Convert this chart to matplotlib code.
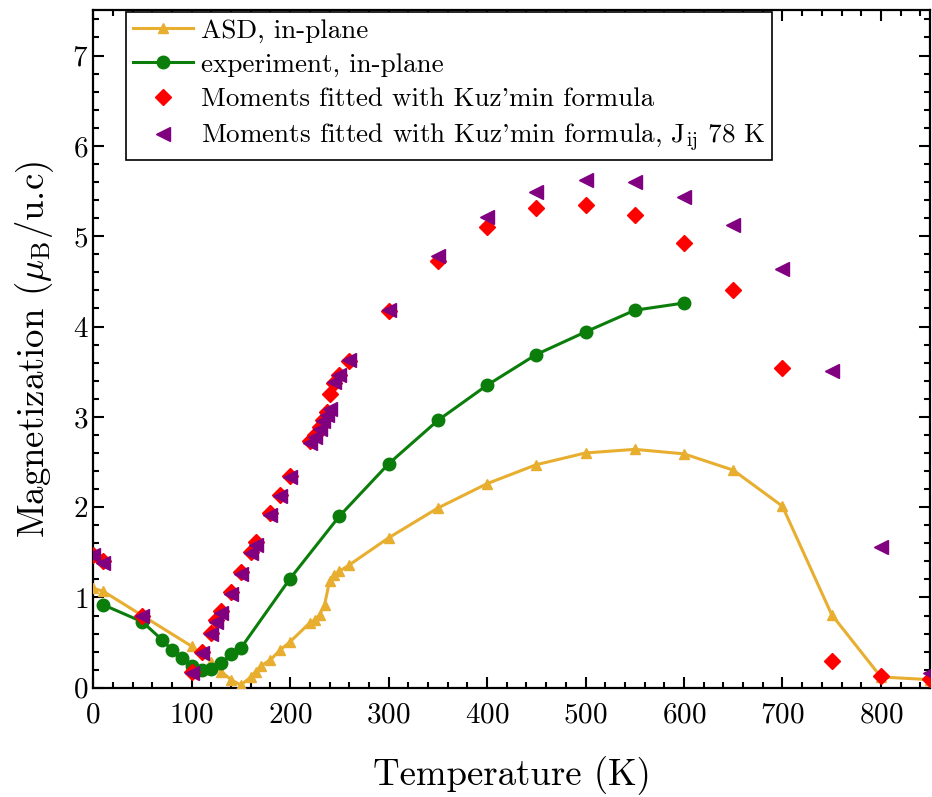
import numpy as np
import matplotlib
matplotlib.use('Agg')
import matplotlib.pyplot as plt
from matplotlib.ticker import MultipleLocator

plt.rcParams['font.family'] = ['cmr10', 'DejaVu Serif']
plt.rcParams['mathtext.fontset'] = 'cm'
plt.rcParams['axes.formatter.use_mathtext'] = True

# Dados
t_asd = [0, 10, 100, 120, 130, 140, 150, 160, 165, 170, 180, 190, 200, 220, 225, 230,
         235, 240, 245, 250, 260, 300, 350, 400, 450, 500, 550, 600, 650, 700, 750, 800, 850]
m_asd = [1.10, 1.07, 0.46, 0.29, 0.18, 0.09, 0.03, 0.12, 0.18, 0.24, 0.31, 0.42, 0.51, 0.72, 0.75, 0.81,
         0.92, 1.18, 1.25, 1.29, 1.36, 1.66, 1.99, 2.26, 2.47, 2.60, 2.64, 2.59, 2.41, 2.01, 0.81, 0.12, 0.09]

t_exp = [10, 50, 70, 80, 90, 100, 110, 120, 130, 140, 150, 200, 250, 300, 350, 400, 450, 500, 550, 600]
m_exp = [0.92, 0.73, 0.53, 0.42, 0.33, 0.24, 0.20, 0.21, 0.27, 0.37, 0.44, 1.21, 1.90, 2.48,
         2.96, 3.35, 3.69, 3.94, 4.18, 4.26]

t_kuz = [0, 10, 50, 100, 110, 120, 125, 130, 140, 150, 160, 165, 180, 190, 200, 220, 225, 230,
         233, 237, 240, 245, 250, 260, 300, 350, 400, 450, 500, 550, 600, 650, 700, 750, 800, 850]
m_kuz = [1.47, 1.40, 0.80, 0.18, 0.40, 0.61, 0.75, 0.85, 1.06, 1.28, 1.50, 1.61, 1.93, 2.13, 2.35,
         2.73, 2.80, 2.89, 2.97, 3.05, 3.25, 3.38, 3.46, 3.62, 4.17, 4.72, 5.10, 5.31, 5.35, 5.23,
         4.92, 4.40, 3.54, 0.30, 0.13, 0.10]

t_jij = [0, 10, 50, 100, 110, 120, 125, 130, 140, 150, 160, 165, 180, 190, 200, 220, 225, 230,
         233, 237, 240, 245, 250, 260, 300, 350, 400, 450, 500, 550, 600, 650, 700, 750, 800, 850]
m_jij = [1.47, 1.38, 0.79, 0.16, 0.38, 0.60, 0.73, 0.83, 1.04, 1.26, 1.49, 1.58, 1.91, 2.12, 2.33,
         2.71, 2.78, 2.87, 2.95, 3.02, 3.09, 3.39, 3.46, 3.63, 4.18, 4.78, 5.21, 5.49, 5.62, 5.60,
         5.43, 5.12, 4.64, 3.51, 1.56, 0.16]

fig = plt.figure(figsize=(9.32, 7.97), dpi=100)
ax = fig.add_axes([0.1, 0.137, 0.898, 0.85])

ax.plot(t_asd, m_asd, color='#E8AE30', lw=2.2, marker='^', ms=7, mec='#E8AE30',
        label='ASD, in-plane', zorder=3)
ax.plot(t_exp, m_exp, color='#0B7D0B', lw=2.2, marker='o', ms=9,
        label='experiment, in-plane', zorder=3)
ax.plot(t_kuz, m_kuz, ls='none', color='#FF0000', marker='D', ms=8,
        label="Moments fitted with Kuz'min formula", zorder=4)
ax.plot(t_jij, m_jij, ls='none', color='#800080', marker='<', ms=10,
        label=r"Moments fitted with Kuz'min formula, J$_{\rm ij}$ 78 K", zorder=5)

ax.set_xlim(0, 850)
ax.set_ylim(0, 7.5)
ax.xaxis.set_major_locator(MultipleLocator(100))
ax.xaxis.set_minor_locator(MultipleLocator(20))
ax.yaxis.set_major_locator(MultipleLocator(1))
ax.yaxis.set_minor_locator(MultipleLocator(0.2))
ax.tick_params(which='both', direction='in', top=True, right=True, width=1.5, labelsize=21)
ax.tick_params(which='major', length=8)
ax.tick_params(which='minor', length=4)
ax.tick_params(axis='x', pad=10)
for s in ax.spines.values():
    s.set_linewidth(1.6)

ax.set_xlabel('Temperature (K)', fontsize=26.5, labelpad=20)
ax.set_ylabel(r'Magnetization ($\mu_{\rm B}$/u.c)', fontsize=26.5, labelpad=12)

leg = ax.legend(loc='upper left', bbox_to_anchor=(0.038, 1.0), fontsize=19.5, numpoints=1,
                fancybox=False, edgecolor='black', framealpha=1, handlelength=2.2,
                borderpad=0.25, labelspacing=0.38, handletextpad=0.3, borderaxespad=0.05)
leg.get_frame().set_linewidth(1.2)

plt.savefig('out.png', dpi=100)
plt.close()
